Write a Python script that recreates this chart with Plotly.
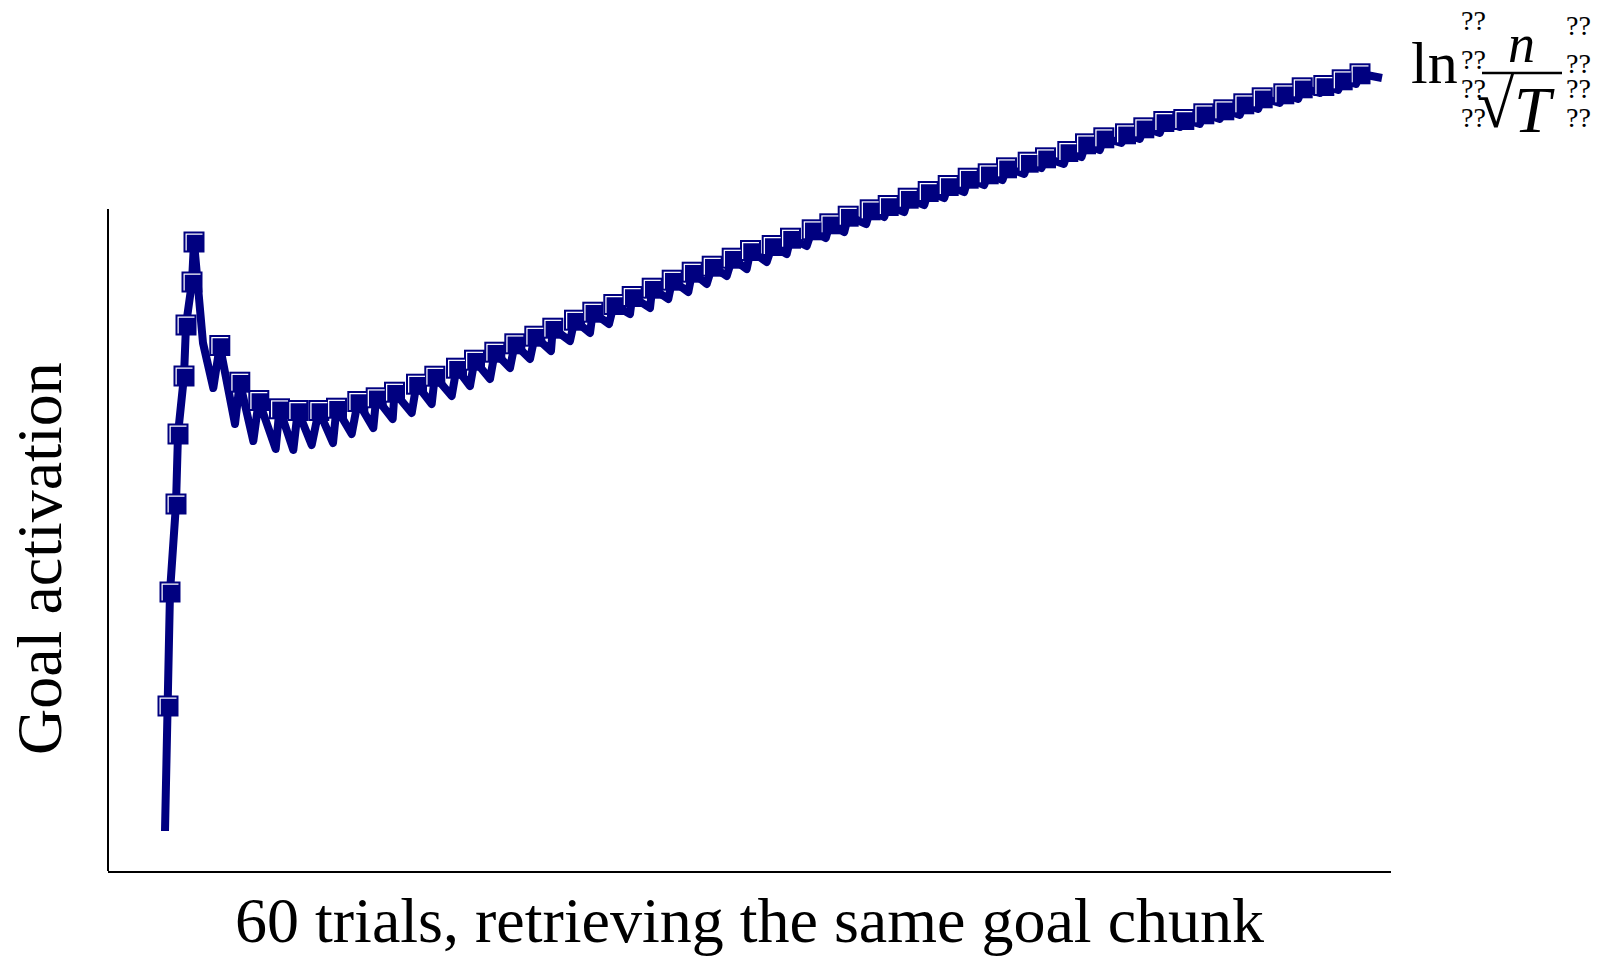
import plotly.graph_objects as go

# ---- data (time in s, activation) ----
start_time = 28.5
start_act = -3.60

rise_time = [30.0, 31.0, 34.0, 35.0, 38.0, 39.0, 42.0, 43.0]
rise_act = [-2.35, -1.21, -0.33, 0.37, 0.95, 1.46, 1.89, 2.29]

bend_time = 47.5
bend_act = 1.28

trial_time = [55.9, 65.9, 75.4, 85.75, 94.9, 105.4, 114.25, 124.9, 134.1, 143.25,
              154.25, 163.4, 174.25, 183.25, 193.4, 203.4, 213.4, 222.4, 233.25, 242.4,
              252.9, 262.1, 272.1, 282.1, 292.1, 302.1, 312.1, 321.25, 332.1, 341.25,
              352.1, 360.9, 370.1, 381.1, 390.1, 400.1, 410.1, 420.1, 430.1, 440.1,
              449.25, 460.1, 468.75, 479.9, 488.75, 497.9, 508.75, 517.9, 527.9, 537.9,
              547.9, 557.9, 567.9, 577.1, 587.9, 597.1, 607.9, 617.1, 626.0]
trial_act = [1.255, 0.888, 0.705, 0.622, 0.605, 0.605, 0.628, 0.695, 0.732, 0.788,
             0.868, 0.948, 1.028, 1.108, 1.188, 1.272, 1.348, 1.428, 1.508, 1.588,
             1.665, 1.745, 1.828, 1.908, 1.988, 2.048, 2.128, 2.205, 2.255, 2.328,
             2.412, 2.472, 2.548, 2.612, 2.655, 2.728, 2.795, 2.855, 2.928, 2.972,
             3.032, 3.088, 3.132, 3.195, 3.272, 3.332, 3.372, 3.432, 3.495, 3.515,
             3.572, 3.612, 3.672, 3.732, 3.772, 3.832, 3.855, 3.912, 3.972]

# decayed activation just before each trial
dip_time = [52.65, 63.5, 72.65, 83.85, 92.65, 101.85, 112.5, 121.85, 132.65, 142.35,
            151.85, 161.85, 171.85, 181.0, 191.0, 201.0, 211.0, 221.5, 231.0, 241.0,
            250.5, 261.0, 271.0, 280.15, 290.15, 299.35, 309.35, 319.35, 329.35, 339.35,
            349.35, 358.9, 368.1, 379.1, 388.1, 398.1, 408.1, 418.1, 428.1, 438.1,
            447.25, 458.1, 466.75, 477.9, 486.75, 495.9, 506.75, 515.9, 525.9, 535.9,
            545.9, 555.9, 565.9, 575.1, 585.9, 595.1, 605.9, 615.1, 624.0]
dip_act = [0.83, 0.47, 0.30, 0.22, 0.21, 0.26, 0.28, 0.37, 0.43, 0.52,
           0.58, 0.67, 0.75, 0.85, 0.92, 1.03, 1.12, 1.20, 1.30, 1.38,
           1.47, 1.57, 1.63, 1.72, 1.79, 1.87, 1.95, 2.02, 2.09, 2.17,
           2.25, 2.33, 2.39, 2.47, 2.54, 2.59, 2.66, 2.73, 2.79, 2.86,
           2.91, 2.97, 3.03, 3.07, 3.14, 3.21, 3.28, 3.32, 3.38, 3.44,
           3.47, 3.52, 3.56, 3.62, 3.68, 3.72, 3.78, 3.81, 3.87]

end_time = 637.0
end_act = 3.93

x_title = "60 trials, retrieving the same goal chunk"
y_title = "Goal activation"

NAVY = "#000080"
SERIF = "Liberation Serif, Times New Roman, serif"

# ---- build the line ----
line_t = [start_time] + rise_time + [bend_time]
line_a = [start_act] + rise_act + [bend_act]
for dt, da, tt, ta in zip(dip_time, dip_act, trial_time, trial_act):
    line_t += [dt, tt]
    line_a += [da, ta]
line_t.append(end_time)
line_a.append(end_act)

mk_t = rise_time + trial_time
mk_a = rise_act + trial_act

fig = go.Figure()
fig.add_trace(go.Scatter(x=line_t, y=line_a, mode="lines",
                         line=dict(color=NAVY, width=8), hoverinfo="skip",
                         showlegend=False))
fig.add_trace(go.Scatter(x=mk_t, y=mk_a, mode="markers",
                         marker=dict(symbol="square", size=21, color=NAVY,
                                     line=dict(width=0)),
                         hoverinfo="skip", showlegend=False))
fig.add_trace(go.Scatter(x=mk_t, y=mk_a, mode="markers",
                         marker=dict(symbol="square", size=17, color="white",
                                     line=dict(width=0)),
                         hoverinfo="skip", showlegend=False))
# inner navy square shifted 1 px right/down so only a thin white L remains
fig.add_trace(go.Scatter(x=[t + 0.5 for t in mk_t], y=[a - 0.01 for a in mk_a],
                         mode="markers",
                         marker=dict(symbol="square", size=16.5, color=NAVY,
                                     line=dict(width=0)),
                         hoverinfo="skip", showlegend=False))

W, H = 1604, 957
L, R, T, B = 108, 213, 20, 86
pw, ph = W - L - R, H - T - B


def px(xp):
    return (xp - L) / pw


def py(yp):
    return (H - B - yp) / ph


ann = []
ann.append(dict(text=x_title, x=0.5, y=py(920), xref="paper", yref="paper",
                showarrow=False, xanchor="center", yanchor="middle",
                font=dict(family=SERIF, size=64, color="black")))
ann.append(dict(text=y_title, x=px(39), y=py(559), xref="paper", yref="paper",
                showarrow=False, xanchor="center", yanchor="middle", textangle=-90,
                font=dict(family=SERIF, size=64, color="black")))
# formula in the top right corner
ann.append(dict(text="ln", x=px(1409), y=py(63), xref="paper", yref="paper",
                showarrow=False, xanchor="left", yanchor="middle",
                font=dict(family=SERIF, size=60, color="black")))
ann.append(dict(text="<i>n</i>", x=px(1521), y=py(44), xref="paper", yref="paper",
                showarrow=False, xanchor="center", yanchor="middle",
                font=dict(family=SERIF, size=54, color="black")))
ann.append(dict(text="√", x=px(1496), y=py(104), xref="paper", yref="paper",
                showarrow=False, xanchor="center", yanchor="middle",
                font=dict(family=SERIF, size=68, color="black")))
ann.append(dict(text="<i>T</i>", x=px(1535), y=py(110), xref="paper", yref="paper",
                showarrow=False, xanchor="center", yanchor="middle",
                font=dict(family=SERIF, size=66, color="black")))
for (xc, yc) in [(1473, 20), (1473, 60), (1473, 88), (1473, 118),
                 (1578, 26), (1578, 64), (1578, 88), (1578, 118)]:
    ann.append(dict(text="??", x=px(xc), y=py(yc), xref="paper", yref="paper",
                    showarrow=False, xanchor="center", yanchor="middle",
                    font=dict(family=SERIF, size=28, color="black")))

shapes = [
    dict(type="line", xref="paper", yref="y", x0=0, x1=0, y0=-4.0, y1=2.62,
         line=dict(color="black", width=2)),
    dict(type="line", xref="paper", yref="paper", x0=px(1482), x1=px(1562),
         y0=py(73), y1=py(73), line=dict(color="black", width=2.5)),
]

fig.update_layout(
    width=W, height=H,
    margin=dict(l=L, r=R, t=T, b=B, pad=0),
    paper_bgcolor="white", plot_bgcolor="white",
    xaxis=dict(range=[0, 641.5], showline=True, linecolor="black", linewidth=2,
               showticklabels=False, ticks="", showgrid=False, zeroline=False),
    yaxis=dict(range=[-4.0, 4.51], showline=False, showticklabels=False, ticks="",
               showgrid=False, zeroline=False),
    annotations=ann, shapes=shapes, showlegend=False,
)

post = ("document.body.style.margin='0';"
        "document.querySelectorAll('path.js-line').forEach(function(p){"
        "p.style.strokeLinejoin='round';});")
fig.write_html("out.html", post_script=post, config={"displayModeBar": False})
